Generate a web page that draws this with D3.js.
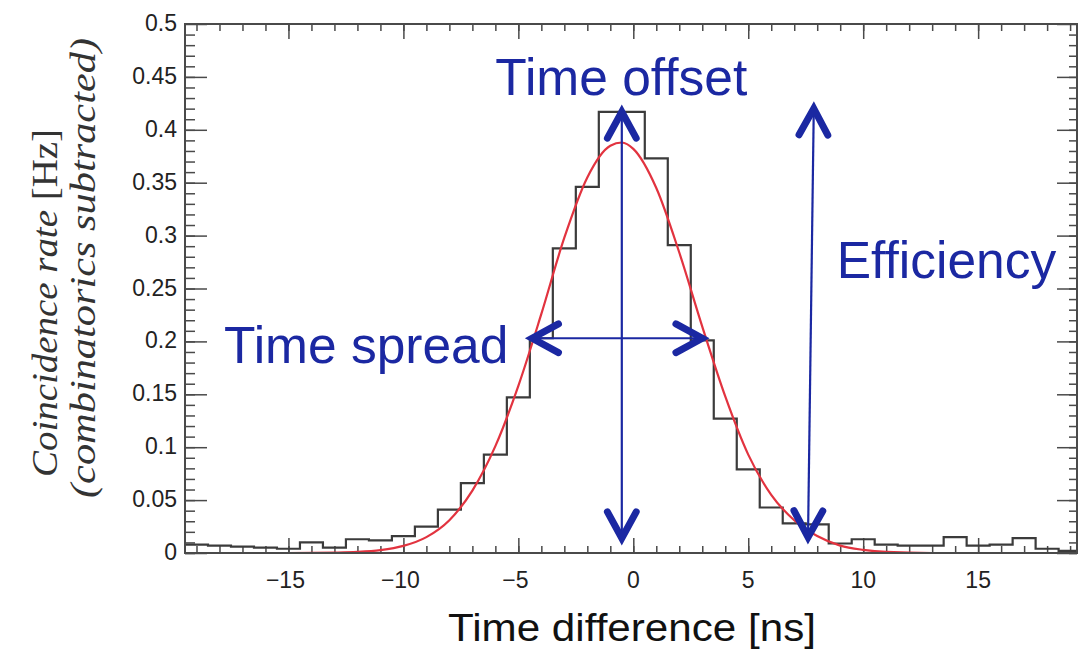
<!DOCTYPE html>
<html>
<head>
<meta charset="utf-8">
<script src="https://cdn.jsdelivr.net/npm/d3@7/dist/d3.min.js"></script>
<style>
  body { margin: 0; background: #fff; }
  text { font-family: "Liberation Sans", Arial, sans-serif; }
</style>
</head>
<body>
<svg id="chart" width="1081" height="650"></svg>
<script>
// histogram: 1 ns bins, centre of each bin
const binCenters = [-19, -18, -17, -16, -15, -14, -13, -12, -11, -10, -9, -8, -7, -6, -5, -4, -3, -2, -1,
  0, 1, 2, 3, 4, 5, 6, 7, 8, 9, 10, 11, 12, 13, 14, 15, 16, 17, 18, 19];
const rates = [0.008, 0.007, 0.006, 0.005, 0.004, 0.010, 0.005, 0.013, 0.012, 0.016, 0.025, 0.041, 0.066, 0.093, 0.147, 0.203, 0.288, 0.346, 0.417,
  0.417, 0.373, 0.291, 0.201, 0.127, 0.079, 0.043, 0.028, 0.027, 0.009, 0.013, 0.008, 0.007, 0.007, 0.015, 0.007, 0.008, 0.014, 0.004, 0.002];

// gaussian fit
const fitX = [-19.5, -15, -13, -12, -11, -10, -9, -8, -7, -6, -5, -4, -3, -2, -1, -0.5, 0, 1, 2, 3, 4, 5, 6, 7, 8, 9, 10, 11, 13, 19.3];
const fitY = [0, 0, 0.0004, 0.001, 0.0027, 0.0067, 0.015, 0.031, 0.059, 0.101, 0.158, 0.226, 0.298, 0.355, 0.385, 0.388, 0.382, 0.345, 0.284, 0.214, 0.148, 0.093, 0.055, 0.031, 0.016, 0.007, 0.003, 0.001, 0, 0];

const xTicks = [-15, -10, -5, 0, 5, 10, 15];
const yTicks = [0, 0.05, 0.1, 0.15, 0.2, 0.25, 0.3, 0.35, 0.4, 0.45, 0.5];

// annotations (data coords)
const arrows = [
  { name: 'offset', x1: -0.5, y1: 0.014, x2: -0.5, y2: 0.417 },
  { name: 'efficiency', x1: 7.6, y1: 0.015, x2: 7.85, y2: 0.42 },
  { name: 'spread', x1: -4.4, y1: 0.203, x2: 3.0, y2: 0.203 }
];
const labels = [
  { text: 'Time offset', x: -6.0, y: 0.433 },
  { text: 'Time spread', x: -17.8, y: 0.18 },
  { text: 'Efficiency', x: 8.85, y: 0.26 }
];

const svg = d3.select('#chart');
const mLeft = 185, mRight = 1077, mTop = 24, mBottom = 553;

const x = d3.scaleLinear().domain([-19.5, 19.3]).range([mLeft, mRight]);
const y = d3.scaleLinear().domain([0, 0.5]).range([mBottom, mTop]);

const axisColor = '#4a4a4a';
const blue = '#1b28a2';

svg.append('clipPath').attr('id', 'plot-clip')
  .append('rect').attr('x', mLeft).attr('y', mTop).attr('width', mRight - mLeft).attr('height', mBottom - mTop);

// ticks inside the frame, ROOT style
function tickAxis(axis, transform, values, size) {
  const g = svg.append('g')
    .attr('transform', transform)
    .call(axis.tickValues(values).tickSize(size).tickFormat(''));
  g.select('.domain').remove();
  g.selectAll('line').attr('stroke', axisColor).attr('stroke-width', 1.5);
  return g;
}
const minorX = d3.range(-19, 20);
const minorY = d3.range(0, 50).map(d => d / 100);
tickAxis(d3.axisBottom(x), `translate(0,${mBottom})`, minorX, -7);
tickAxis(d3.axisBottom(x), `translate(0,${mBottom})`, xTicks, -15);
tickAxis(d3.axisTop(x), `translate(0,${mTop})`, minorX, -7);
tickAxis(d3.axisTop(x), `translate(0,${mTop})`, xTicks, -15);
tickAxis(d3.axisLeft(y), `translate(${mLeft},0)`, minorY, -10);
tickAxis(d3.axisLeft(y), `translate(${mLeft},0)`, yTicks, -22);
tickAxis(d3.axisRight(y), `translate(${mRight},0)`, minorY, -8);
tickAxis(d3.axisRight(y), `translate(${mRight},0)`, yTicks, -20);

// tick labels
svg.append('g').selectAll('text').data(xTicks).join('text')
  .attr('x', d => x(d) - (d < 0 ? 3 : 0)).attr('y', 588)
  .attr('text-anchor', 'middle')
  .attr('font-size', 23).attr('fill', '#222')
  .text(d => d < 0 ? '\u2212' + Math.abs(d) : d);

svg.append('g').selectAll('text').data(yTicks).join('text')
  .attr('x', 177).attr('y', d => y(d) + 7)
  .attr('text-anchor', 'end')
  .attr('font-size', 23).attr('fill', '#222')
  .text(d => d3.format('~g')(d));

// axis titles
svg.append('text')
  .attr('x', 632).attr('y', 641)
  .attr('text-anchor', 'middle')
  .attr('font-size', 38).attr('fill', '#111')
  .attr('textLength', 368).attr('lengthAdjust', 'spacingAndGlyphs')
  .text('Time difference [ns]');

const ytitle = svg.append('g').attr('fill', '#333');
const t1 = ytitle.append('text')
  .attr('transform', 'translate(57,303) rotate(-90)')
  .attr('text-anchor', 'middle').attr('font-size', 36)
  .attr('textLength', 348).attr('lengthAdjust', 'spacingAndGlyphs')
  .style('font-family', '"Liberation Serif", serif');
t1.append('tspan').attr('font-style', 'italic').text('Coincidence rate ');
t1.append('tspan').text('[Hz]');
ytitle.append('text')
  .attr('transform', 'translate(95,268) rotate(-90)')
  .attr('text-anchor', 'middle').attr('font-size', 36)
  .attr('font-style', 'italic')
  .attr('textLength', 460).attr('lengthAdjust', 'spacingAndGlyphs')
  .style('font-family', '"Liberation Serif", serif')
  .text('(combinatorics subtracted)');

const plot = svg.append('g').attr('clip-path', 'url(#plot-clip)');

// histogram outline
const stepPoints = binCenters.map((c, i) => [c - 0.5, rates[i]]);
stepPoints.push([binCenters[binCenters.length - 1] + 0.5, rates[rates.length - 1]]);
plot.append('path')
  .datum(stepPoints)
  .attr('fill', 'none')
  .attr('stroke', '#3b3b3b')
  .attr('stroke-width', 2.2)
  .attr('d', d3.line().x(d => x(d[0])).y(d => y(d[1])).curve(d3.curveStepAfter));

// fit
plot.append('path')
  .datum(fitX.map((v, i) => [v, fitY[i]]))
  .attr('fill', 'none')
  .attr('stroke', '#e2333f')
  .attr('stroke-width', 2.2)
  .attr('d', d3.line().x(d => x(d[0])).y(d => y(d[1])).curve(d3.curveMonotoneX));

// frame
svg.append('rect')
  .attr('x', mLeft).attr('y', mTop).attr('width', mRight - mLeft).attr('height', mBottom - mTop)
  .attr('fill', 'none').attr('stroke', axisColor).attr('stroke-width', 2);

// arrows: thin shaft, thick chevron at each end
const ann = svg.append('g');
function chevron(px, py, qx, qy) {
  // head at (qx,qy) pointing away from (px,py)
  const a = Math.atan2(qy - py, qx - px);
  const len = 30, half = 0.5;
  const tip = [qx, qy];
  const w1 = [qx - len * Math.cos(a - half), qy - len * Math.sin(a - half)];
  const w2 = [qx - len * Math.cos(a + half), qy - len * Math.sin(a + half)];
  ann.append('path')
    .attr('d', d3.line()([w1, tip, w2]))
    .attr('fill', 'none').attr('stroke', blue)
    .attr('stroke-width', 7).attr('stroke-linejoin', 'miter').attr('stroke-linecap', 'round');
}
arrows.forEach(a => {
  const p1 = [x(a.x1), y(a.y1)], p2 = [x(a.x2), y(a.y2)];
  ann.append('line')
    .attr('x1', p1[0]).attr('y1', p1[1]).attr('x2', p2[0]).attr('y2', p2[1])
    .attr('stroke', blue).attr('stroke-width', 2.2);
  chevron(p1[0], p1[1], p2[0], p2[1]);
  chevron(p2[0], p2[1], p1[0], p1[1]);
});

ann.selectAll('text.lbl').data(labels).join('text')
  .attr('class', 'lbl')
  .attr('x', d => x(d.x)).attr('y', d => y(d.y))
  .attr('font-size', 51.5).attr('fill', blue)
  .text(d => d.text);
</script>
</body>
</html>
